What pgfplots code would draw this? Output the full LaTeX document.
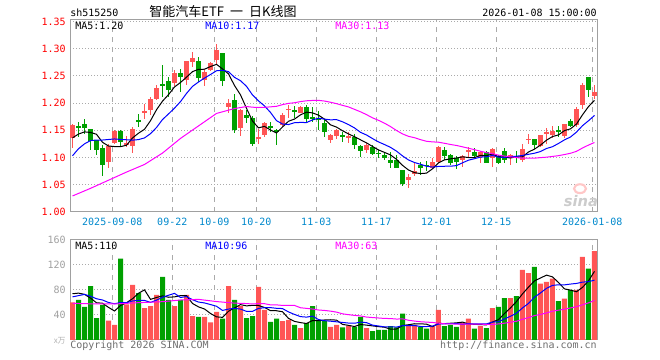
\documentclass[border=0pt]{standalone}
\usepackage{pgfplots}
\pgfplotsset{compat=1.18}
\usepackage{pgfplotstable}
\usepackage{fontspec}
\setmainfont{DejaVu Sans Mono}
\newfontfamily\cjk{Noto Sans CJK SC}
\newfontfamily\sinafont{DejaVu Sans}
\definecolor{upred}{RGB}{255,85,85}
\definecolor{dngreen}{RGB}{0,160,0}
\definecolor{bordergray}{RGB}{160,160,160}
\definecolor{gridgray}{RGB}{170,170,170}
\definecolor{datecol}{RGB}{0,136,204}
\definecolor{ma10col}{RGB}{0,0,255}
\definecolor{ma30col}{RGB}{255,0,255}
\definecolor{txtgray}{RGB}{110,110,110}
\newcommand\tf{\fontsize{7.5pt}{9pt}\selectfont}

\pgfplotstableread{
i o h l c v
0 1.135 1.162 1.118 1.160 60
1 1.158 1.165 1.138 1.155 64
2 1.161 1.171 1.144 1.154 53
3 1.153 1.153 1.114 1.130 86
4 1.132 1.132 1.104 1.114 35
5 1.117 1.122 1.066 1.086 56
6 1.091 1.125 1.081 1.121 31
7 1.127 1.151 1.124 1.149 24
8 1.149 1.150 1.119 1.129 130
9 1.124 1.139 1.119 1.127 57
10 1.121 1.156 1.108 1.153 88
11 1.169 1.180 1.156 1.165 75
12 1.183 1.198 1.171 1.185 51
13 1.187 1.211 1.179 1.208 54
14 1.208 1.233 1.205 1.228 72
15 1.235 1.270 1.211 1.232 101
16 1.240 1.248 1.211 1.225 64
17 1.237 1.261 1.231 1.256 54
18 1.256 1.263 1.220 1.249 64
19 1.243 1.277 1.234 1.277 72
20 1.275 1.294 1.267 1.283 38
21 1.277 1.285 1.239 1.246 37
22 1.242 1.263 1.231 1.257 37
23 1.261 1.275 1.259 1.274 28
24 1.280 1.308 1.272 1.297 45
25 1.293 1.293 1.231 1.241 34
26 1.192 1.208 1.181 1.200 86
27 1.205 1.216 1.145 1.150 64
28 1.154 1.190 1.139 1.188 54
29 1.179 1.188 1.164 1.173 35
30 1.173 1.176 1.121 1.124 38
31 1.135 1.153 1.125 1.137 85
32 1.141 1.165 1.138 1.164 48
33 1.157 1.165 1.147 1.154 29
34 1.150 1.153 1.122 1.146 34
35 1.159 1.181 1.156 1.179 30
36 1.188 1.196 1.173 1.190 32
37 1.188 1.194 1.173 1.184 24
38 1.182 1.194 1.181 1.193 19
39 1.193 1.196 1.165 1.171 27
40 1.174 1.192 1.165 1.172 54
41 1.171 1.185 1.150 1.169 30
42 1.163 1.171 1.138 1.147 30
43 1.132 1.144 1.127 1.141 21
44 1.139 1.153 1.133 1.150 24
45 1.140 1.147 1.129 1.139 20
46 1.135 1.147 1.127 1.139 22
47 1.138 1.144 1.116 1.122 21
48 1.121 1.122 1.100 1.112 37
49 1.113 1.127 1.108 1.122 19
50 1.119 1.122 1.104 1.106 14
51 1.108 1.113 1.099 1.107 16
52 1.105 1.110 1.095 1.099 16
53 1.096 1.110 1.081 1.089 22
54 1.095 1.104 1.080 1.081 20
55 1.077 1.077 1.047 1.051 42
56 1.059 1.070 1.043 1.064 22
57 1.069 1.090 1.066 1.075 24
58 1.086 1.092 1.067 1.080 21
59 1.086 1.094 1.075 1.085 18
60 1.080 1.099 1.078 1.091 22
61 1.092 1.121 1.090 1.119 48
62 1.114 1.119 1.095 1.102 22
63 1.104 1.107 1.086 1.090 24
64 1.098 1.102 1.078 1.092 21
65 1.095 1.104 1.083 1.102 28
66 1.111 1.119 1.101 1.113 34
67 1.110 1.118 1.098 1.102 18
68 1.101 1.112 1.090 1.110 22
69 1.110 1.112 1.089 1.090 19
70 1.098 1.118 1.083 1.116 51
71 1.103 1.104 1.088 1.089 53
72 1.111 1.118 1.089 1.096 67
73 1.098 1.106 1.086 1.104 67
74 1.101 1.112 1.090 1.100 70
75 1.096 1.125 1.092 1.116 112
76 1.133 1.143 1.124 1.134 107
77 1.133 1.133 1.116 1.122 117
78 1.121 1.141 1.119 1.141 90
79 1.145 1.154 1.125 1.146 93
80 1.141 1.157 1.136 1.149 98
81 1.150 1.157 1.138 1.149 62
82 1.140 1.162 1.136 1.162 66
83 1.167 1.171 1.156 1.157 80
84 1.159 1.192 1.156 1.190 80
85 1.196 1.237 1.189 1.234 133
86 1.249 1.249 1.212 1.225 114
87 1.213 1.233 1.208 1.220 142
}\kdata

\pgfplotstableread{
i ma5 ma10 vma5 vma10
0 1.136 1.103 74 69
1 1.143 1.116 75 71
2 1.147 1.125 73 73
3 1.146 1.131 67 70
4 1.1426 1.132 59.6 66
5 1.1278 1.132 58.8 64
6 1.1210 1.133 52.2 60
7 1.1200 1.134 46.4 58
8 1.1198 1.133 55.2 60
9 1.1224 1.1325 59.6 59.6
10 1.1358 1.1318 66.0 62.4
11 1.1446 1.1328 74.8 63.5
12 1.1518 1.1359 80.2 63.3
13 1.1676 1.1437 65.0 60.1
14 1.1878 1.1551 68.0 63.8
15 1.2036 1.1697 70.6 68.3
16 1.2156 1.1801 68.4 71.6
17 1.2298 1.1908 69.0 74.6
18 1.2380 1.2028 71.0 68.0
19 1.2478 1.2178 71.0 69.5
20 1.2580 1.2308 58.4 64.5
21 1.2622 1.2389 53.0 60.7
22 1.2624 1.2461 49.6 59.3
23 1.2674 1.2527 42.4 56.7
24 1.2714 1.2596 37.0 54.0
25 1.2630 1.2605 36.2 47.3
26 1.2538 1.2580 46.0 49.5
27 1.2324 1.2474 51.4 50.5
28 1.2152 1.2413 56.6 49.5
29 1.1904 1.2309 54.6 45.8
30 1.1670 1.2150 55.4 45.8
31 1.1544 1.2041 55.2 50.6
32 1.1572 1.1948 52.0 51.7
33 1.1504 1.1828 47.0 51.8
34 1.1450 1.1677 46.8 50.7
35 1.1560 1.1615 45.2 50.3
36 1.1666 1.1605 34.6 44.9
37 1.1706 1.1639 29.8 40.9
38 1.1784 1.1644 27.8 37.4
39 1.1834 1.1642 26.4 36.6
40 1.1820 1.1690 31.2 38.2
41 1.1778 1.1722 30.8 32.7
42 1.1704 1.1705 32.0 30.9
43 1.1600 1.1692 32.4 30.1
44 1.1558 1.1696 31.8 29.1
45 1.1492 1.1656 25.0 28.1
46 1.1432 1.1605 23.4 27.1
47 1.1382 1.1543 21.6 26.8
48 1.1324 1.1462 24.8 28.6
49 1.1268 1.1413 23.8 27.8
50 1.1202 1.1347 22.6 23.8
51 1.1138 1.1285 21.4 22.4
52 1.1092 1.1237 20.4 21.0
53 1.1046 1.1185 17.4 21.1
54 1.0964 1.1116 17.6 20.7
55 1.0854 1.1028 23.2 22.9
56 1.0768 1.0953 24.4 22.9
57 1.0720 1.0906 26.0 23.2
58 1.0702 1.0874 25.8 21.6
59 1.0710 1.0837 25.4 21.5
60 1.0790 1.0822 21.4 22.3
61 1.0900 1.0834 26.6 25.5
62 1.0954 1.0837 26.2 26.1
63 1.0974 1.0838 26.8 26.3
64 1.0988 1.0849 27.4 26.4
65 1.1010 1.0900 28.6 25.0
66 1.0998 1.0949 25.8 26.2
67 1.0998 1.0976 25.0 25.6
68 1.1038 1.1006 24.6 25.7
69 1.1034 1.1011 24.2 25.8
70 1.1062 1.1036 28.8 28.7
71 1.1014 1.1006 32.6 29.2
72 1.1002 1.1000 42.4 33.7
73 1.0990 1.1014 51.4 38.0
74 1.1010 1.1022 61.6 42.9
75 1.1010 1.1036 73.8 51.3
76 1.1100 1.1057 84.6 58.6
77 1.1152 1.1077 94.6 68.5
78 1.1226 1.1108 99.2 75.3
79 1.1318 1.1164 103.8 82.7
80 1.1384 1.1197 101.0 87.4
81 1.1414 1.1257 92.0 88.3
82 1.1494 1.1323 81.8 88.2
83 1.1526 1.1376 79.8 89.5
84 1.1614 1.1466 77.2 90.5
85 1.1784 1.1584 84.2 92.6
86 1.1936 1.1675 94.6 93.3
87 1.2052 1.1773 109.8 95.8
}\madata

\pgfplotstableread{
i ma30
0 1.029
3 1.043
6 1.058
9 1.073
12 1.087
15 1.108
18 1.135
21 1.158
24 1.181
27 1.190
29 1.1937
30 1.1925
31 1.1919
32 1.1923
33 1.1931
34 1.1941
35 1.1972
36 1.1995
37 1.2007
38 1.2028
39 1.2043
40 1.2049
41 1.2051
42 1.2038
43 1.2016
44 1.1990
45 1.1959
46 1.1930
47 1.1885
48 1.1840
49 1.1788
50 1.1729
51 1.1683
52 1.1630
53 1.1568
54 1.1496
55 1.1433
56 1.1388
57 1.1363
58 1.1327
59 1.1297
60 1.1286
61 1.1280
62 1.1260
63 1.1238
64 1.1220
65 1.1195
66 1.1169
67 1.1142
68 1.1114
69 1.1087
70 1.1068
71 1.1042
72 1.1025
73 1.1012
74 1.0996
75 1.0988
76 1.0986
77 1.0986
78 1.0996
79 1.1004
80 1.1018
81 1.1032
82 1.1053
83 1.1076
84 1.1112
85 1.1173
86 1.1227
87 1.1275
}\mathirty

\pgfplotstableread{
i vma30
0 58.7
4 57.6
7 57.6
11 59.7
15 61.3
18 64
21 65
24 61.5
27 59
29 58.3
30 57.6
31 58.3
32 58.1
33 56.2
34 56.2
35 55.3
36 55.3
37 55.3
38 51.6
39 50.6
40 49.5
41 48.0
42 47.3
43 46.2
44 44.6
45 41.9
46 40.5
47 39.4
48 38.5
49 36.7
50 35.9
51 35.2
52 34.5
53 34.3
54 33.5
55 33.8
56 31.6
57 30.3
58 29.2
59 28.6
60 28.1
61 26.9
62 26.0
63 25.8
64 25.4
65 25.3
66 25.4
67 25.2
68 25.3
69 25.0
70 24.9
71 25.7
72 26.9
73 28.5
74 30.0
75 33.1
76 35.9
77 39.1
78 40.9
79 43.3
80 46.1
81 47.7
82 49.3
83 51.3
84 53.3
85 56.3
86 59.4
87 63.3
}\vmathirty

\pgfplotsset{
  kaxis/.style={
    scale only axis, width=395.25pt,
    xmin=-0.42, xmax=87.42,
    axis line style={draw=bordergray, line width=0.75pt},
    major tick length=0pt,
    xtick={6.63,16.63,23.63,30.63,40.63,50.63,60.63,70.63,86.63},
    xmajorgrids, ymajorgrids,
    x grid style={draw=gridgray, line width=0.75pt, dash pattern=on 3.5pt off 4pt},
    y grid style={draw=gridgray, line width=0.75pt, dash pattern=on 0.75pt off 1.5pt},
    tick label style={font=\tf, inner sep=0pt},
    /pgf/number format/assume math mode=true,
    yticklabel style={anchor=east, xshift=-3pt},
    xticklabel style={anchor=north, yshift=-4.7pt, text=datecol},
  },
  wick/.style={draw=none, no marks,
    error bars/.cd, y dir=both, y explicit, error mark=none,
    error bar style={draw=#1, line width=0.75pt}},
  body/.style={draw=none, no marks,
    error bars/.cd, y dir=both, y explicit, error mark=none,
    error bar style={draw=#1, line width=3.75pt}},
  redonly/.style={restrict expr to domain={\thisrow{c}-\thisrow{o}}{0:1}},
  greenonly/.style={restrict expr to domain={\thisrow{o}-\thisrow{c}}{0.00001:1}},
}

\begin{document}
\begin{tikzpicture}
\path[use as bounding box] (0,0) rectangle (495pt,270pt);

% ---------- price panel ----------
\begin{axis}[kaxis,
  at={(52.5pt,111.225pt)}, anchor=south west, height=143.775pt,
  ymin=1.0, ymax=1.3531,
  ytick={1.00,1.05,1.10,1.15,1.20,1.25,1.30,1.35},
  yticklabels={1.00,1.05,1.10,1.15,1.20,1.25,1.30,1.35},
  yticklabel style={text=red},
  xticklabels={2025-09-08,09-22,10-09,10-20,11-03,11-17,12-01,12-15,2026-01-08},
]
\addplot[redonly, wick=upred] table[x=i, y expr={(\thisrow{h}+\thisrow{l})/2}, y error expr={(\thisrow{h}-\thisrow{l})/2}] {\kdata};
\addplot[greenonly, wick=dngreen] table[x=i, y expr={(\thisrow{h}+\thisrow{l})/2}, y error expr={(\thisrow{h}-\thisrow{l})/2}] {\kdata};
\addplot[redonly, body=upred] table[x=i, y expr={(\thisrow{o}+\thisrow{c})/2}, y error expr={max(abs(\thisrow{c}-\thisrow{o})/2,0.0009)}] {\kdata};
\addplot[greenonly, body=dngreen] table[x=i, y expr={(\thisrow{o}+\thisrow{c})/2}, y error expr={max(abs(\thisrow{c}-\thisrow{o})/2,0.0009)}] {\kdata};
\addplot[black, line width=0.75pt] table[x=i, y=ma5] {\madata};
\addplot[ma10col, line width=0.75pt] table[x=i, y=ma10] {\madata};
\addplot[ma30col, line width=0.75pt] table[x=i, y=ma30] {\mathirty};
\end{axis}

% ---------- volume panel ----------
\begin{axis}[kaxis,
  at={(52.5pt,15pt)}, anchor=south west, height=75pt,
  ymin=0, ymax=160,
  ytick={40,80,120,160},
  yticklabels={40,80,120,160},
  yticklabel style={text=bordergray},
  xticklabels={},
]
\addplot[redonly, ybar, bar width=3.75pt, bar shift=0pt, fill=upred, draw=none] table[x=i, y=v] {\kdata};
\addplot[greenonly, ybar, bar width=3.75pt, bar shift=0pt, fill=dngreen, draw=none] table[x=i, y=v] {\kdata};
\addplot[black, line width=0.75pt] table[x=i, y=vma5] {\madata};
\addplot[ma10col, line width=0.75pt] table[x=i, y=vma10] {\madata};
\addplot[ma30col, line width=0.75pt] table[x=i, y=vma30] {\vmathirty};
\end{axis}

% ---------- texts ----------
\node[anchor=west, inner sep=0pt, font=\tf] at (52.5pt,260.6pt) {sh515250};
\node[inner sep=0pt, font=\cjk\fontsize{9.75pt}{11pt}\selectfont] at (167.25pt,261pt) {智能汽车ETF\hspace{4.5pt}一\hspace{4.5pt}日K线图};
\node[anchor=east, inner sep=0pt, font=\tf] at (447.75pt,260.6pt) {2026-01-08 15:00:00};

\node[anchor=west, inner sep=0pt, font=\tf, text=black] at (56.25pt,250.5pt) {MA5:1.20};
\node[anchor=west, inner sep=0pt, font=\tf, text=ma10col] at (153.75pt,250.5pt) {MA10:1.17};
\node[anchor=west, inner sep=0pt, font=\tf, text=ma30col] at (251.25pt,250.5pt) {MA30:1.13};

\node[anchor=west, inner sep=0pt, font=\tf, text=black] at (56.25pt,85.5pt) {MA5:110};
\node[anchor=west, inner sep=0pt, font=\tf, text=ma10col] at (153.75pt,85.5pt) {MA10:96};
\node[anchor=west, inner sep=0pt, font=\tf, text=ma30col] at (251.25pt,85.5pt) {MA30:63};

\node[anchor=east, inner sep=0pt, text=gray!60, font=\cjk\fontsize{6pt}{7pt}\selectfont] at (49.5pt,14.25pt) {x万};
\node[anchor=west, inner sep=0pt, font=\tf, text=txtgray] at (52.5pt,10.5pt) {Copyright 2026 SINA.COM};
\node[anchor=east, inner sep=0pt, font=\tf, text=txtgray] at (447.75pt,10.5pt) {http://finance.sina.com.cn};

% watermark
\draw[red!22, line width=1.6pt] (435pt,128.5pt) ellipse (4.5pt and 3.3pt);
\node[inner sep=0pt, text=gray!40, font=\sinafont\bfseries\itshape\fontsize{11pt}{12pt}\selectfont] at (435.75pt,119.5pt) {sina};
\end{tikzpicture}
\end{document}
